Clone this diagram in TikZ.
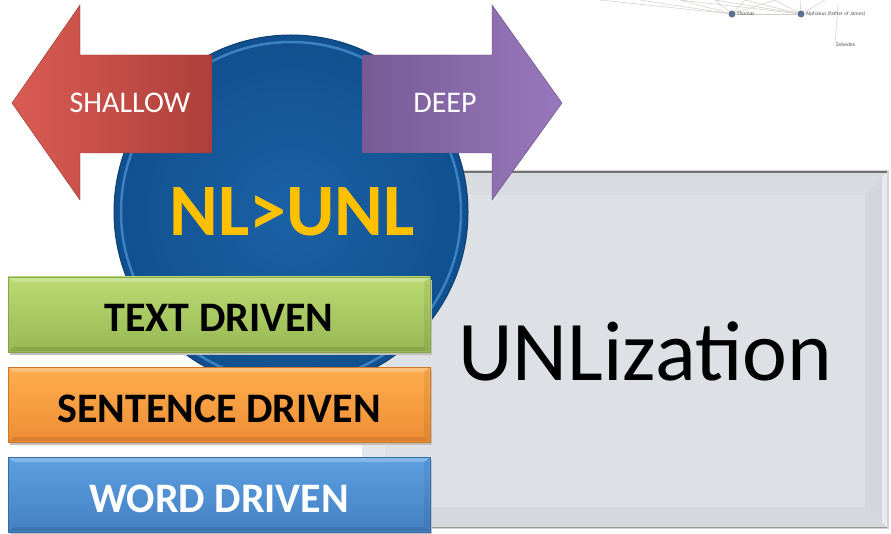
\documentclass[tikz,border=0pt]{standalone}
\usepackage{fontspec}
\setmainfont{Carlito}
\usetikzlibrary{shadings}
\definecolor{grayA}{HTML}{DDE1E5}
\definecolor{grayTop}{HTML}{D8DCE1}
\definecolor{grayLeft}{HTML}{E3E6EA}
\definecolor{grayRight}{HTML}{D3D6DC}
\definecolor{grayBot}{HTML}{D5D8DD}
\definecolor{redL}{HTML}{DA5C53}
\definecolor{redR}{HTML}{AE3F3A}
\definecolor{purL}{HTML}{775A96}
\definecolor{purR}{HTML}{9878BC}
\definecolor{ballIn}{HTML}{1A62A6}
\definecolor{ballOut}{HTML}{11508F}
\definecolor{ballRing}{HTML}{4B93D3}
\definecolor{nlyellow}{HTML}{FFC000}
\definecolor{grnT}{HTML}{BBDA72}
\definecolor{grnB}{HTML}{97B853}
\definecolor{grnD}{HTML}{86A646}
\definecolor{orgT}{HTML}{FDAE4E}
\definecolor{orgB}{HTML}{EE8D35}
\definecolor{orgD}{HTML}{CF7528}
\definecolor{bluT}{HTML}{5CA0E2}
\definecolor{bluB}{HTML}{4480C2}
\definecolor{bluD}{HTML}{356CA6}
\definecolor{netline}{HTML}{D2CCC8}
\definecolor{netnode}{HTML}{5B7193}
\tikzset{
  graphlbl/.style={font=\fontsize{5.5}{6}\selectfont, text=black!65, anchor=west, inner sep=1pt},
  netedge/.style={draw=netline, line width=0.5pt},
  drivenbox/.style={rectangle, minimum width=422pt, minimum height=75pt, inner sep=0pt,
     font=\fontsize{42}{44}\selectfont\bfseries},
  arrowlbl/.style={font=\fontsize{30}{32}\selectfont, text=white, anchor=base, inner sep=0pt},
}
\begin{document}
\begin{tikzpicture}[x=1pt,y=-1pt]
\useasboundingbox (0,0) rectangle (891,534);
\fill[white] (0,0) rectangle (891,534);

% faint network in the top right
\coordinate (t0) at (600,0);
\coordinate (t1) at (640,0);
\coordinate (t2) at (680,0);
\coordinate (t3) at (715,0);
\coordinate (t4) at (745,0);
\coordinate (t5) at (775,0);
\coordinate (t6) at (800,0);
\coordinate (t7) at (825,0);
\coordinate (t8) at (838,4);
\node[circle, fill=netnode, minimum size=7pt, inner sep=0pt] (thomas) at (732,14) {};
\node[circle, fill=netnode, minimum size=7pt, inner sep=0pt] (alph) at (801,14) {};
\coordinate (zeb) at (835,45);
\foreach \c in {t0,t1,t2,t3,t4,t5} \draw[netedge] (\c) -- (thomas);
\foreach \c in {t2,t3,t4,t5,t6,t7} \draw[netedge] (\c) -- (alph);
\draw[netedge] (thomas) -- (alph);
\draw[netedge] (t8) -- (zeb);
\node[graphlbl] at (thomas.east) {Thomas};
\node[graphlbl] at (alph.east) {Alphaeus (father of James)};
\node[graphlbl] at (zeb) {Zebedee};

% grey UNLization panel
\fill[black!18] (364,170) rectangle (889,529);
\fill[grayA] (362,172) rectangle (887,527);
\fill[grayTop] (362,172) -- (887,172) -- (865,195) -- (385,195) -- cycle;
\fill[grayLeft] (362,172) -- (385,195) -- (385,507) -- (362,527) -- cycle;
\fill[grayRight] (887,172) -- (865,195) -- (865,507) -- (887,527) -- cycle;
\fill[grayBot] (362,527) -- (385,507) -- (865,507) -- (887,527) -- cycle;
\fill[white, opacity=0.5] (882,177) -- (887,172) -- (887,527) -- (882,522) -- cycle;
\draw[black!55, line width=1.2pt] (362,172) -- (887,172);
\draw[black!40, line width=0.8pt] (362,527) -- (887,527);
\node[anchor=base, inner sep=0pt, font=\fontsize{85}{90}\selectfont] (unl) at (645,380) {UNLization};

% blue ball
\node[circle, minimum size=354pt, inner sep=0pt, draw=ballOut!80!black, line width=1pt,
      inner color=ballIn, outer color=ballOut] (ball) at (291,212) {};
\draw[ballRing, line width=2.5pt, opacity=0.75] (291,212) circle (170);
\node[anchor=base, inner sep=0pt, text=nlyellow, font=\fontsize{74}{78}\selectfont\bfseries] (nl) at (292,236) {NL>UNL};

% arrows
\path[left color=redL, right color=redR, draw=redR!85!black, line width=0.4pt]
  (12,103) -- (80,5) -- (80,55) -- (212,55) -- (212,153) -- (80,153) -- (80,200) -- cycle;
\node[arrowlbl] (shallow) at (130,113) {SHALLOW};
\path[left color=purL, right color=purR, draw=purL!85!black, line width=0.4pt]
  (562,103) -- (492,5) -- (492,55) -- (362,55) -- (362,153) -- (492,153) -- (492,200) -- cycle;
\node[arrowlbl] (deep) at (445,113) {DEEP};

% driven boxes
\foreach \y/\t/\b/\d in {277/grnT/grnB/grnD, 367/orgT/orgB/orgD, 457/bluT/bluB/bluD}{
  \fill[black!25] (10,\y+3) rectangle (432,\y+78);
  \path[top color=\t, bottom color=\b, draw=\d, line width=0.8pt] (8,\y) rectangle (430,\y+75);
  \fill[white, opacity=0.25] (9,\y+1) -- (429,\y+1) -- (424,\y+5) -- (14,\y+5) -- cycle;
  \fill[black, opacity=0.10] (9,\y+74) -- (429,\y+74) -- (424,\y+70) -- (14,\y+70) -- cycle;
  \fill[black, opacity=0.06] (429,\y+1) -- (429,\y+74) -- (424,\y+70) -- (424,\y+5) -- cycle;
}
\node[drivenbox, anchor=base] (text) at (219,332) {TEXT DRIVEN};
\node[drivenbox, anchor=base] (sent) at (219,422) {SENTENCE DRIVEN};
\node[drivenbox, anchor=base, text=white] (word) at (219,512) {WORD DRIVEN};
\end{tikzpicture}
\end{document}
